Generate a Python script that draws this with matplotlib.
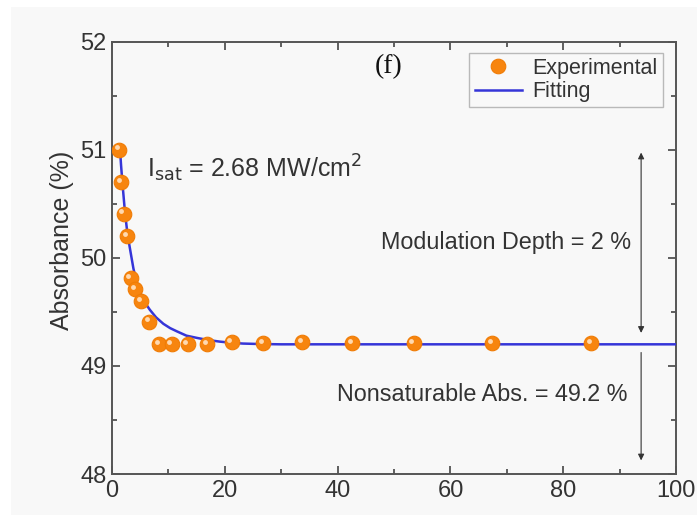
import matplotlib
matplotlib.use("Agg")
import matplotlib.pyplot as plt
import matplotlib.transforms as mtransforms
from matplotlib.patches import Rectangle
from matplotlib.ticker import MultipleLocator

# Experimental data (intensity, absorbance %)
exp_x = [1.3, 1.6, 2.1, 2.7, 3.3, 4.1, 5.2, 6.6, 8.4, 10.6, 13.4, 16.9,
         21.2, 26.8, 33.7, 42.6, 53.5, 67.4, 85.0]
exp_y = [51.0, 50.70, 50.41, 50.20, 49.81, 49.71, 49.60, 49.41, 49.20, 49.20,
         49.20, 49.20, 49.22, 49.21, 49.22, 49.21, 49.21, 49.21, 49.21]

# Fitting curve
fit_x = [1.42, 1.6, 1.9, 2.3, 2.7, 3.07, 3.4, 3.8, 4.3, 5.0, 5.8, 6.7, 7.8,
         9.1, 10.3, 11.5, 13.2, 15.0, 17.0, 19.1, 21.0, 23.2, 26.0, 30.0, 100.0]
fit_y = [51.0, 50.86, 50.66, 50.42, 50.24, 50.12, 50.02, 49.90, 49.79, 49.68,
         49.59, 49.52, 49.45, 49.39, 49.35, 49.32, 49.28, 49.26, 49.24, 49.225,
         49.215, 49.207, 49.203, 49.2, 49.2]

x_ticks = [0, 20, 40, 60, 80, 100]
y_ticks = [48, 49, 50, 51, 52]

bg = "#f8f8f8"
txt = "#333333"
plt.rcParams["font.family"] = ["Liberation Sans", "DejaVu Sans"]

fig = plt.figure(figsize=(6.97, 5.15), dpi=100, facecolor="white")
fig.patches.append(Rectangle((11 / 697, 0), 1, 1 - 7 / 515,
                             transform=fig.transFigure, facecolor=bg,
                             edgecolor="none", zorder=-10))
ax = fig.add_axes([0.1607, 0.0796, 0.8093, 0.8394], facecolor=bg)

ax.plot(fit_x, fit_y, color="#3535d8", lw=1.8, zorder=3, label="Fitting")
pts, = ax.plot(exp_x, exp_y, "o", ms=10.5, color="#f7850f", mec="#f07c05",
               mew=0.8, zorder=4, label="Experimental")
hl = mtransforms.offset_copy(ax.transData, fig=fig, x=-1.8, y=1.8, units="points")
ax.plot(exp_x, exp_y, "o", ms=3.5, color="#ffd9b0", mec="none", zorder=5,
        transform=hl)

ax.set_xlim(0, 100)
ax.set_ylim(48, 52)
ax.set_xticks(x_ticks)
ax.set_yticks(y_ticks)
ax.xaxis.set_minor_locator(MultipleLocator(10))
ax.yaxis.set_minor_locator(MultipleLocator(0.5))
ax.tick_params(which="both", direction="in", top=True, right=True,
               colors="#444444", labelcolor=txt, labelsize=17)
ax.tick_params(which="major", length=6, width=1.2, pad=4)
ax.tick_params(which="minor", length=3.5, width=1.2)
for s in ax.spines.values():
    s.set_color("#555555")
    s.set_linewidth(1.4)

ax.set_ylabel("Absorbance (%)", fontsize=18, color=txt)
ax.yaxis.set_label_coords(-0.068, 0.54)

leg = ax.legend(handles=[pts, ax.lines[0]], loc="upper right",
                bbox_to_anchor=(0.985, 0.985), fontsize=15.5, frameon=True,
                fancybox=False, edgecolor="#aaaaaa", facecolor=bg,
                handlelength=2.2, borderpad=0.25, labelspacing=0.1,
                handletextpad=0.5, borderaxespad=0.2)
for t in leg.get_texts():
    t.set_color(txt)

ax.text(49, 51.77, "(f)", fontsize=20, family="Liberation Serif",
        ha="center", va="center", color="#111111")
ax.text(6.2, 50.83, r"I$_{\rm sat}$ = 2.68 MW/cm$^{2}$", fontsize=18,
        ha="left", va="center", color=txt)
ax.text(69.9, 50.14, "Modulation Depth = 2 %", fontsize=16.8, ha="center",
        va="center", color=txt)
ax.text(65.6, 48.74, "Nonsaturable Abs. = 49.2 %", fontsize=16.8, ha="center",
        va="center", color=txt)

arrow_kw = dict(color="#333333", lw=0.8, mutation_scale=9)
ax.annotate("", xy=(93.8, 51.0), xytext=(93.8, 49.28),
            arrowprops=dict(arrowstyle="<|-|>", **arrow_kw))
ax.annotate("", xy=(93.8, 48.1), xytext=(93.8, 49.15),
            arrowprops=dict(arrowstyle="-|>", **arrow_kw))

fig.savefig("out.png", dpi=100, facecolor="white")
